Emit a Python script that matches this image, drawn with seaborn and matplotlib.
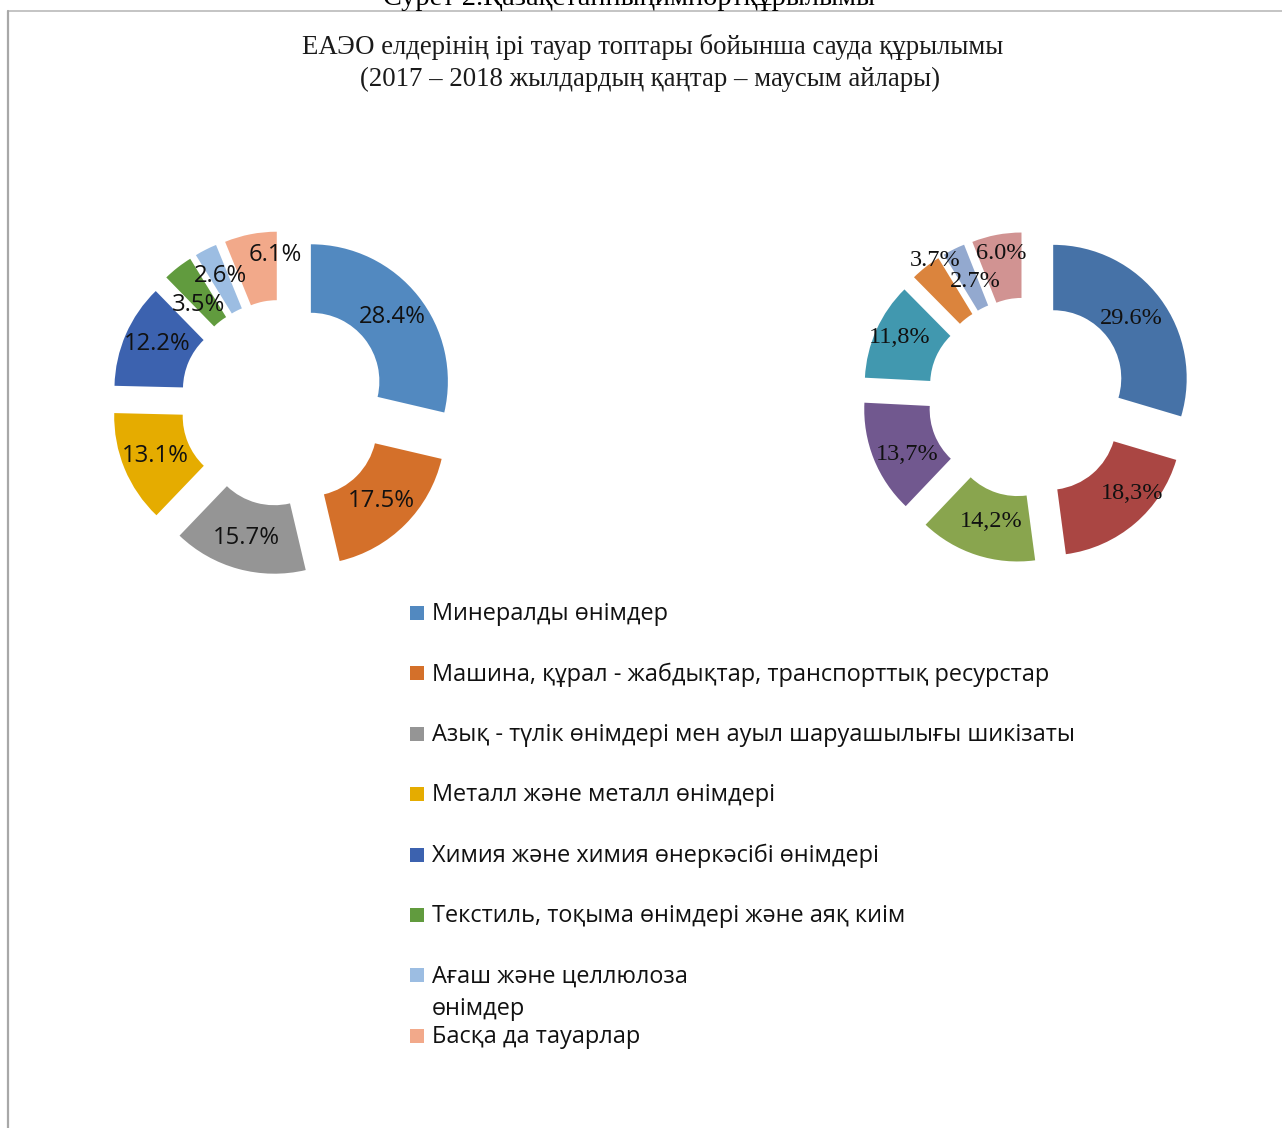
import matplotlib
matplotlib.use("Agg")
import matplotlib.pyplot as plt
from matplotlib.lines import Line2D
from matplotlib.patches import Rectangle
import numpy as np
import seaborn as sns

# Commodity groups (legend order = wedge order, clockwise from 12 o'clock)
categories = [
    "Минералды өнімдер",
    "Машина, құрал - жабдықтар, транспорттық ресурстар",
    "Азық - түлік өнімдері мен ауыл шаруашылығы шикізаты",
    "Металл және металл өнімдері",
    "Химия және химия өнеркәсібі өнімдері",
    "Текстиль, тоқыма өнімдері және аяқ киім",
    "Ағаш және целлюлоза\nөнімдер",
    "Басқа да тауарлар",
]

# Shares, %
share_2017 = [28.4, 17.5, 15.7, 13.1, 12.2, 3.5, 2.6, 6.1]
share_2018 = [29.6, 18.3, 14.2, 13.7, 11.8, 3.7, 2.7, 6.0]
# decimal separator used in each 2018 label
sep_2018 = [".", ",", ",", ",", ",", ".", ".", "."]

colors_2017 = ["#5289C0", "#D4702A", "#959595", "#E5AC00",
               "#3C62AF", "#619B3E", "#9CBDE2", "#F2A98A"]
colors_2018 = ["#4672A7", "#AA4643", "#89A54E", "#71588F",
               "#4198AF", "#DB843D", "#93A9CF", "#D19392"]

title_lines = ["ЕАЭО елдерінің ірі тауар топтары бойынша сауда құрылымы",
               "(2017 – 2018 жылдардың қаңтар – маусым айлары)"]
caption = "Сурет 2.Қазақстанныңимпортқұрылымы"

sns.set_theme(style="white")
plt.rcParams["font.family"] = ["Open Sans", "Noto Sans", "DejaVu Sans"]

W, H = 1282, 1128
fig = plt.figure(figsize=(W / 100, H / 100), dpi=100)
fig.patch.set_facecolor("white")


def fx(x):
    return x / W


def fy(y):
    return 1 - y / H


SERIF = ["Liberation Serif", "DejaVu Serif"]

# caption running off the top edge of the page
fig.text(fx(629), fy(5), caption, ha="center", va="baseline",
         fontsize=20.4, family=SERIF, color="black")

# chart frame
fig.add_artist(Line2D([fx(8), fx(W)], [fy(11), fy(11)], color="#c4c4c4",
                      lw=1.4, transform=fig.transFigure))
fig.add_artist(Line2D([fx(8), fx(8)], [fy(11), fy(H)], color="#a8a8a8",
                      lw=1.6, transform=fig.transFigure))

# title
fig.text(fx(652.5), fy(47), title_lines[0], ha="center", va="center",
         fontsize=19.3, family=SERIF, color="#1a1a1a")
fig.text(fx(650.5), fy(79), title_lines[1], ha="center", va="center",
         fontsize=19.3, family=SERIF, color="#1a1a1a")


def donut(cx, cy, R, values, colors, labels, explode, width,
          lab_r, lab_shift, font):
    side = 3.0 * R
    ax = fig.add_axes([fx(cx - side / 2), fy(cy + side / 2),
                       side / W, side / H])
    wedges, _ = ax.pie(values, colors=colors, startangle=90,
                       counterclock=False, radius=1.0,
                       explode=[explode] * len(values),
                       wedgeprops=dict(width=width, linewidth=0))
    for w, lab, r, s in zip(wedges, labels, lab_r, lab_shift):
        mid = np.deg2rad((w.theta1 + w.theta2) / 2 - s)
        d = explode + r
        ax.text(d * np.cos(mid), d * np.sin(mid), lab, ha="center",
                va="center", **font)
    ax.set_xlim(-1.5, 1.5)
    ax.set_ylim(-1.5, 1.5)
    ax.set_aspect("equal")
    ax.axis("off")
    return ax


labels_2017 = [f"{v:.1f}%" for v in share_2017]
labels_2018 = [f"{v:.1f}".replace(".", s) + "%"
               for v, s in zip(share_2018, sep_2018)]

donut(283.5, 403, 137, share_2017, colors_2017, labels_2017,
      explode=0.255, width=0.5,
      lab_r=[0.755, 0.76, 0.77, 0.76, 0.76, 0.69, 0.78, 0.83],
      lab_shift=[0, 0, 0, 0, 1.5, -3, 0.5, 8],
      font=dict(fontsize=17.2, color="#111111",
                family=["Open Sans", "DejaVu Sans"]))

donut(1027.5, 397.5, 133.5, share_2018, colors_2018, labels_2018,
      explode=0.24, width=0.49,
      lab_r=[0.74, 0.82, 0.73, 0.76, 0.82, 1.0, 0.71, 0.86],
      lab_shift=[-0.6, -7, -1.7, -3.7, 1.1, 4.1, 2.1, 0.4],
      font=dict(fontsize=17.5, color="#111111", family=SERIF))

# legend drawn as a list of swatches with text
row0, step = 613, 60.4
for i, (name, col) in enumerate(zip(categories, colors_2017)):
    y = row0 + step * i
    fig.add_artist(Rectangle((fx(410), fy(y + 7)), 14 / W, 14 / H,
                             facecolor=col, edgecolor="none",
                             transform=fig.transFigure))
    for j, line in enumerate(name.split("\n")):
        fig.text(fx(432), fy(y + 1 + 33 * j), line, ha="left", va="center",
                 fontsize=16.9, color="#111111")

fig.savefig("out.png", dpi=100, facecolor="white")
